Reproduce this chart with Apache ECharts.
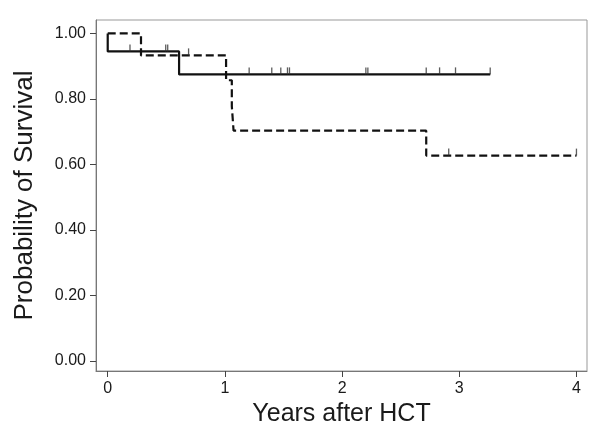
<!DOCTYPE html>
<html>
<head>
<meta charset="utf-8">
<script src="https://cdn.jsdelivr.net/npm/echarts@6/dist/echarts.min.js"></script>
<style>html,body{margin:0;padding:0;background:#fff}#c{width:600px;height:435px}</style>
</head>
<body>
<div id="c"></div>
<script>
// Kaplan-Meier curves (time in years, survival probability after the event)
var solidTimes = [0, 0, 0.609, 3.264];
var solidSurv  = [1.0, 0.945, 0.875, 0.875];
var dashedTimes = [0, 0.284, 1.010, 1.059, 1.074, 2.718, 4.0];
var dashedSurv  = [1.0, 0.933, 0.857, 0.778, 0.703, 0.627, 0.627];
// censoring marks
var solidCensorTimes = [0.19, 0.495, 0.512, 1.207, 1.40, 1.477, 1.534, 1.551, 2.203, 2.22, 2.718, 2.832, 2.968, 3.264];
var solidCensorSurv  = [0.945, 0.945, 0.945, 0.875, 0.875, 0.875, 0.875, 0.875, 0.875, 0.875, 0.875, 0.875, 0.875, 0.875];
var dashedCensorTimes = [0.69, 2.91, 4.0];
var dashedCensorSurv  = [0.933, 0.627, 0.627];
var xTicks = [0, 1, 2, 3, 4];
var yTicks = [0, 0.2, 0.4, 0.6, 0.8, 1.0];

function zip(a, b) { return a.map(function (v, i) { return [v, b[i]]; }); }

var chart = echarts.init(document.getElementById('c'), null, {renderer: 'canvas'});
var font = 'Liberation Sans, Arial, sans-serif';
chart.setOption({
  animation: false,
  backgroundColor: '#fff',
  grid: {left: 96, top: 20, right: 13, bottom: 64, show: true, borderColor: '#999', borderWidth: 1, backgroundColor: 'transparent'},
  xAxis: {
    type: 'value', min: -0.1, max: 4.09,
    name: 'Years after HCT', nameLocation: 'middle', nameGap: 27,
    nameTextStyle: {fontFamily: font, fontSize: 25, color: '#1a1a1a'},
    axisLine: {show: true, onZero: false, lineStyle: {color: '#777', width: 1}},
    axisTick: {show: true, length: 6, customValues: xTicks, lineStyle: {color: '#444'}},
    axisLabel: {customValues: xTicks, margin: 10, fontFamily: font, fontSize: 16, color: '#1a1a1a'},
    splitLine: {show: false}
  },
  yAxis: {
    type: 'value', min: -0.0305, max: 1.041,
    name: 'Probability of Survival', nameLocation: 'middle', nameGap: 58,
    nameTextStyle: {fontFamily: font, fontSize: 26, color: '#1a1a1a'},
    axisLine: {show: true, onZero: false, lineStyle: {color: '#777', width: 1}},
    axisTick: {show: true, length: 6, customValues: yTicks, lineStyle: {color: '#444'}},
    axisLabel: {customValues: yTicks, margin: 10, fontFamily: font, fontSize: 16, color: '#1a1a1a',
      formatter: function (v) { return v.toFixed(2); }},
    splitLine: {show: false}
  },
  series: [
    {type: 'line', step: 'end', data: zip(solidTimes, solidSurv), showSymbol: false, symbol: 'none',
     lineStyle: {color: '#111', width: 2.2}, z: 3},
    {type: 'line', step: 'end', data: zip(dashedTimes, dashedSurv), showSymbol: false, symbol: 'none',
     lineStyle: {color: '#111', width: 2.2, type: [8, 4]}, z: 3},
    {type: 'scatter', data: zip(solidCensorTimes, solidCensorSurv), symbol: 'rect', symbolSize: [1.3, 7], symbolOffset: [0, -3.5],
     itemStyle: {color: '#333'}, z: 4},
    {type: 'scatter', data: zip(dashedCensorTimes, dashedCensorSurv), symbol: 'rect', symbolSize: [1.3, 7], symbolOffset: [0, -3.5],
     itemStyle: {color: '#333'}, z: 4}
  ]
});
</script>
</body>
</html>
